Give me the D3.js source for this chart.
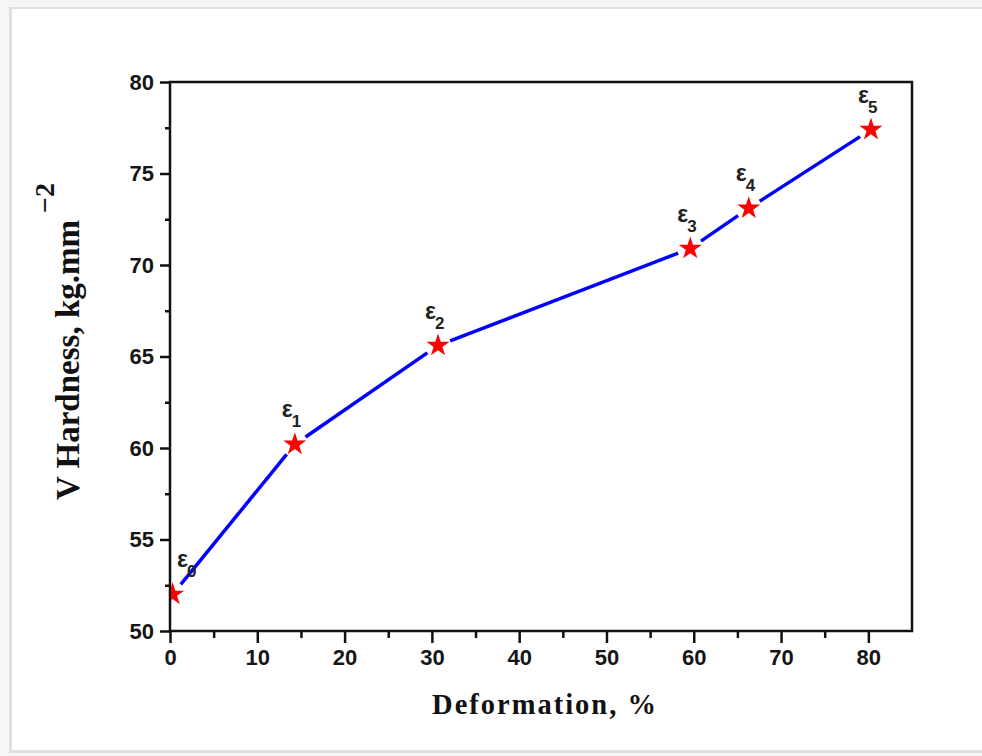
<!DOCTYPE html>
<html>
<head>
<meta charset="utf-8">
<script src="https://cdn.jsdelivr.net/npm/d3@7"></script>
<style>
  body { margin: 0; background: #f4f4f4; }
  svg { display: block; }
</style>
</head>
<body>
<div id="chart"></div>
<script>
// data
const deformation = [0.3, 14.3, 30.7, 59.6, 66.3, 80.3];
const hardness = [52.0, 60.2, 65.6, 70.9, 73.1, 77.4];
const labels = ["0", "1", "2", "3", "4", "5"];
const xTicks = [0, 10, 20, 30, 40, 50, 60, 70, 80];
const yTicks = [50, 55, 60, 65, 70, 75, 80];

const W = 982, H = 756;
const plotLeft = 170, plotRight = 912, plotTop = 82, plotBottom = 631;

const svg = d3.select("#chart").append("svg")
  .attr("width", W).attr("height", H);

// card with soft shadow
svg.append("rect").attr("x", 0).attr("y", 0).attr("width", W).attr("height", H).attr("fill", "#f6f6f6");
svg.append("rect").attr("x", 9).attr("y", 7).attr("width", W).attr("height", 746).attr("fill", "#e0e0e0");
svg.append("rect").attr("x", 12).attr("y", 9).attr("width", W).attr("height", 741).attr("fill", "#fff");

const x = d3.scaleLinear().domain([0, 85]).range([plotLeft, plotRight]);
const y = d3.scaleLinear().domain([50, 80]).range([plotBottom, plotTop]);

// minor ticks
svg.append("g")
  .attr("transform", "translate(0," + plotBottom + ")")
  .call(d3.axisBottom(x).tickValues(d3.range(5, 85, 10)).tickSize(7).tickFormat(""))
  .call(g => g.select(".domain").remove())
  .selectAll("line").attr("stroke", "#111").attr("stroke-width", 2.5);
svg.append("g")
  .attr("transform", "translate(" + plotLeft + ",0)")
  .call(d3.axisLeft(y).tickValues(d3.range(52.5, 80, 5)).tickSize(5).tickFormat(""))
  .call(g => g.select(".domain").remove())
  .selectAll("line").attr("stroke", "#111").attr("stroke-width", 2.5);

// major ticks
const xAxis = svg.append("g")
  .attr("transform", "translate(0," + plotBottom + ")")
  .call(d3.axisBottom(x).tickValues(xTicks).tickSize(12).tickPadding(6));
xAxis.select(".domain").remove();
const yAxis = svg.append("g")
  .attr("transform", "translate(" + plotLeft + ",0)")
  .call(d3.axisLeft(y).tickValues(yTicks).tickSize(10).tickPadding(6));
yAxis.select(".domain").remove();

[xAxis, yAxis].forEach(a => {
  a.selectAll("line").attr("stroke", "#111").attr("stroke-width", 2.5);
  a.selectAll("text")
    .attr("fill", "#161616")
    .style("font-family", "'Liberation Sans', Arial, sans-serif")
    .style("font-weight", "bold")
    .style("font-size", "22px");
});

// frame
svg.append("rect")
  .attr("x", plotLeft).attr("y", plotTop)
  .attr("width", plotRight - plotLeft).attr("height", plotBottom - plotTop)
  .attr("fill", "none").attr("stroke", "#111").attr("stroke-width", 2.5);

svg.append("clipPath").attr("id", "plot")
  .append("rect").attr("x", plotLeft + 1).attr("y", plotTop)
  .attr("width", plotRight - plotLeft).attr("height", plotBottom - plotTop);

const pts = deformation.map((d, i) => ({ x: x(d), y: y(hardness[i]), lab: labels[i] }));
const gap = 13;

const plot = svg.append("g").attr("clip-path", "url(#plot)");

// line segments with gaps around the markers
plot.selectAll(".seg")
  .data(d3.pairs(pts))
  .enter().append("line")
  .each(function([a, b]) {
    const dx = b.x - a.x, dy = b.y - a.y, len = Math.hypot(dx, dy);
    d3.select(this)
      .attr("x1", a.x + dx / len * gap).attr("y1", a.y + dy / len * gap)
      .attr("x2", b.x - dx / len * gap).attr("y2", b.y - dy / len * gap);
  })
  .attr("stroke", "#0000ff").attr("stroke-width", 3.5);

plot.selectAll(".star")
  .data(pts)
  .enter().append("path")
  .attr("d", d3.symbol().type(d3.symbolStar).size(165))
  .attr("transform", d => "translate(" + d.x + "," + d.y + ")")
  .attr("fill", "#ff0000");

// epsilon labels
const lab = svg.selectAll(".lab")
  .data(pts)
  .enter().append("text")
  .attr("x", d => Math.max(d.x - 13, plotLeft + 7))
  .attr("y", d => d.y - 27)
  .attr("fill", "#222")
  .style("font-family", "'Liberation Sans', Arial, sans-serif")
  .style("font-weight", "bold")
  .style("font-size", "23px");
lab.append("tspan").text("ε");
lab.append("tspan").attr("dy", 10).attr("dx", -1).style("font-size", "17px").text(d => d.lab);

// axis titles
svg.append("text")
  .attr("x", 545).attr("y", 714)
  .attr("text-anchor", "middle")
  .style("font-family", "'Liberation Serif', 'Times New Roman', serif")
  .style("font-weight", "bold")
  .style("font-size", "28.5px")
  .style("letter-spacing", "2px")
  .attr("fill", "#111")
  .text("Deformation, %");

svg.append("text")
  .attr("transform", "translate(79,360) rotate(-90)")
  .attr("text-anchor", "middle")
  .style("font-family", "'Liberation Serif', 'Times New Roman', serif")
  .style("font-weight", "bold")
  .style("font-size", "33px")
  .attr("fill", "#111")
  .text("V Hardness, kg.mm");

svg.append("text")
  .attr("transform", "translate(54,213) rotate(-90)")
  .style("font-family", "'Liberation Serif', 'Times New Roman', serif")
  .style("font-weight", "bold")
  .style("font-size", "28px")
  .attr("fill", "#111")
  .text("−2");
</script>
</body>
</html>
